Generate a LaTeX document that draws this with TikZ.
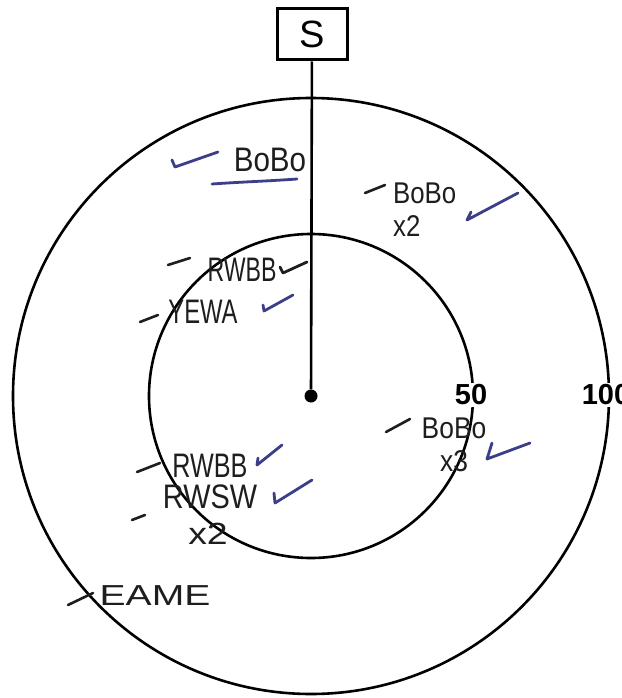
\documentclass[tikz,border=0pt]{standalone}
\usepackage{fontspec}
\setmainfont{Liberation Sans}
\usepackage{tikz}
\usetikzlibrary{positioning}
\definecolor{inkblue}{HTML}{3C3F88}
\definecolor{inkblack}{HTML}{1E1E1E}
\tikzset{
  hand/.style={inkblack, font=\fontsize{34}{28}\selectfont, inner sep=0pt},
  handpair/.style={hand, font=\fontsize{30}{33}\selectfont},
  ring/.style={line width=2.6pt, black},
  dashmark/.style={inkblack, line width=2.6pt, line cap=round},
  checkmark/.style={inkblue, line width=2.8pt, line cap=round, line join=round},
  scalelbl/.style={font=\fontsize{29}{30}\selectfont\bfseries, fill=white, inner sep=1.5pt}
}
\begin{document}
\begin{tikzpicture}[x=1pt, y=-1pt]
\clip (0,0) rectangle (621,698);
\fill[white] (0,0) rectangle (621,698);
% ---------- rings ----------
\node[circle, fill=black, inner sep=0pt, minimum size=13pt] (O) at (311,396) {};
\draw[ring] (O.center) circle (162pt);
\draw[ring] (O.center) circle (298pt);
\node[draw, line width=3pt, minimum width=70pt, minimum height=51pt, inner sep=0pt,
      font=\fontsize{38}{38}\selectfont] (S) at (312,34.5) {S};
\draw[line width=2.6pt] (S) -- (O);
\node[scalelbl] (r50)  at (471,395) {50};
\node[scalelbl] (r100) at (606,395) {100};
% ---------- top left ----------
\node[hand, xscale=0.87] (boboA) at (270,160) {BoBo};
\draw[checkmark] (172,160) -- (175,167) -- (218,152);
\draw[inkblue, line width=2.8pt, line cap=round] (212,184) .. controls (240,182) and (270,181) .. (297,179);
% ---------- top right ----------
\node[handpair, xscale=0.86, align=left, anchor=west] (boboB) at (393,210) {BoBo\\x2};
\draw[dashmark] (365,193) -- (385,185);
\draw[checkmark] (471,212) -- (467,220) -- (518,193);
% ---------- inner, upper left ----------
\node[hand, xscale=0.68] (rwbbA) at (242,270) {RWBB};
\draw[dashmark] (168,265) -- (190,258);
\draw[inkblack, line width=2.8pt, line cap=round, line join=round] (280,267) -- (283,273) -- (307,262);
\node[hand, xscale=0.7] (yewa) at (203,312) {YEWA};
\draw[dashmark] (140,322) -- (158,315);
\draw[checkmark] (263,305) -- (264,311) -- (293,295);
% ---------- inner, lower right ----------
\node[handpair, xscale=0.88, align=center] (boboC) at (454,445) {BoBo\\x3};
\draw[dashmark] (386,432) -- (410,419);
\draw[checkmark] (492,443) -- (487,459) -- (530,443);
% ---------- inner, lower left ----------
\node[hand, xscale=0.74] (rwbbB) at (210,466) {RWBB};
\draw[dashmark] (137,472) -- (160,463);
\draw[checkmark] (258,458) -- (257,465) -- (282,445);
\node[hand, xscale=0.85] (rwsw) at (210,497) {RWSW};
\node[hand, xscale=1.1, yscale=0.9] (rwswn) at (208,534) {x2};
\draw[dashmark] (132,520) -- (145,515);
\draw[checkmark] (274,493) -- (275,503) -- (312,480);
% ---------- outer, lower left ----------
\node[hand, xscale=1.15, yscale=0.85] (eame) at (155,596) {EAME};
\draw[dashmark] (68,605) -- (93,593);
\end{tikzpicture}
\end{document}
